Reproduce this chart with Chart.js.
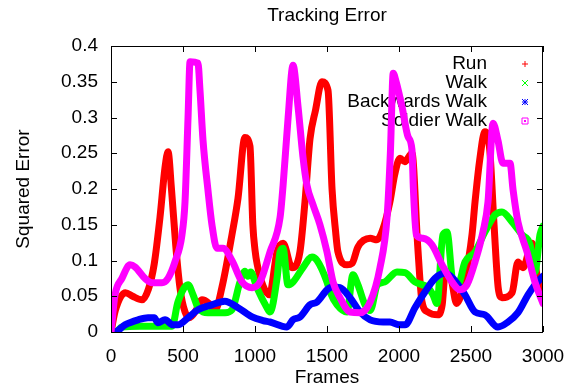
<!DOCTYPE html>
<html>
<head>
<meta charset="utf-8">
<script src="https://cdn.jsdelivr.net/npm/chart.js@4.4.1/dist/chart.umd.min.js"></script>
<style>
  html, body { margin: 0; padding: 0; background: #fff; }
  #wrap { width: 574px; height: 392px; }
</style>
</head>
<body>
<div id="wrap"><canvas id="grafico" width="574" height="392"></canvas></div>
<script>
const titulo = 'Tracking Error';
const seriesNames = ['Run', 'Walk', 'Backwards Walk', 'Soldier Walk'];
const seriesColors = ['#ff0000', '#00ff00', '#0000ff', '#ff00ff'];
const xTicks = [0, 500, 1000, 1500, 2000, 2500, 3000];
const yTicks = [0, 0.05, 0.1, 0.15, 0.2, 0.25, 0.3, 0.35, 0.4];

const runFrames = [0,30,100,150,215,260,300,340,375,396,420,450,480,514,545,590,632,680,722,770,840,882,930,965,985,1000,1015,1055,1100,1153,1195,1257,1312,1347,1382,1420,1465,1507,1535,1560,1576,1639,1674,1715,1800,1847,1890,1937,1970,2007,2040,2090,2130,2160,2200,2270,2300,2320,2360,2400,2458,2507,2528,2560,2597,2630,2660,2690,2715,2785,2826,2861,2924,2958,3000];
const runValues = [0,0.03,0.055,0.05,0.045,0.06,0.095,0.16,0.23,0.252,0.2,0.12,0.06,0.028,0.02,0.03,0.045,0.04,0.03,0.062,0.136,0.187,0.272,0.26,0.15,0.115,0.095,0.065,0.052,0.112,0.124,0.09,0.112,0.182,0.27,0.31,0.35,0.338,0.2,0.14,0.112,0.094,0.096,0.119,0.131,0.129,0.145,0.182,0.22,0.243,0.238,0.25,0.12,0.042,0.028,0.024,0.038,0.08,0.075,0.04,0.075,0.136,0.182,0.24,0.28,0.255,0.15,0.06,0.048,0.055,0.098,0.09,0.124,0.08,0.06];

const walkFrames = [0,30,76,200,424,465,535,570,604,673,792,840,896,930,950,970,1013,1083,1104,1153,1174,1195,1229,1264,1333,1396,1431,1500,1521,1570,1639,1680,1715,1764,1800,1850,1900,1986,2042,2111,2201,2236,2264,2305,2333,2375,2410,2458,2528,2597,2667,2715,2785,2854,2910,2944,2979,3000];
const walkValues = [0,0,0.007,0.008,0.008,0.042,0.066,0.052,0.034,0.027,0.027,0.031,0.07,0.085,0.078,0.084,0.062,0.034,0.028,0.075,0.112,0.117,0.066,0.07,0.09,0.105,0.1,0.07,0.056,0.038,0.028,0.08,0.066,0.038,0.03,0.066,0.07,0.084,0.083,0.07,0.062,0.052,0.04,0.136,0.14,0.07,0.066,0.098,0.112,0.14,0.164,0.168,0.154,0.136,0.122,0.084,0.136,0.148];

const backFrames = [0,25,97,188,257,300,326,375,430,465,535,604,701,790,882,980,1055,1104,1222,1264,1312,1382,1431,1500,1535,1590,1660,1729,1800,1890,1937,2000,2042,2111,2180,2250,2320,2375,2458,2528,2597,2687,2757,2826,2896,2944,3000];
const backValues = [0,0,0.01,0.017,0.02,0.02,0.013,0.017,0.01,0.01,0.02,0.031,0.038,0.043,0.034,0.021,0.016,0.014,0.007,0.017,0.021,0.038,0.042,0.059,0.063,0.062,0.048,0.028,0.017,0.014,0.014,0.01,0.01,0.034,0.056,0.075,0.082,0.075,0.052,0.028,0.024,0.007,0.014,0.027,0.052,0.066,0.078];

const soldierFrames = [0,28,76,132,167,236,285,354,396,444,493,514,535,549,604,618,639,673,701,736,778,840,910,980,1035,1104,1174,1195,1230,1264,1299,1333,1361,1403,1451,1500,1542,1590,1660,1729,1800,1868,1917,1940,1960,1980,2021,2063,2090,2100,2120,2167,2229,2299,2368,2424,2472,2528,2583,2618,2653,2687,2722,2771,2792,2826,2889,2944,3000];
const soldierValues = [0,0.052,0.075,0.094,0.091,0.075,0.069,0.069,0.075,0.098,0.136,0.182,0.3,0.378,0.376,0.338,0.268,0.199,0.15,0.117,0.117,0.1,0.07,0.062,0.07,0.112,0.16,0.205,0.3,0.373,0.315,0.245,0.205,0.178,0.15,0.112,0.07,0.048,0.028,0.027,0.042,0.09,0.16,0.25,0.362,0.35,0.315,0.273,0.255,0.2,0.136,0.131,0.122,0.094,0.07,0.059,0.066,0.098,0.14,0.182,0.292,0.268,0.236,0.236,0.199,0.154,0.112,0.07,0.04];

const FONT = 'Liberation Sans, Arial, Helvetica, sans-serif';

function pontos(frames, values) {
    return frames.map((f, i) => ({ x: f, y: values[i] }));
}

// gnuplot style: box around the plot, ticks pointing inwards, mirrored
const moldura = {
    id: 'moldura',
    beforeDatasetsDraw(chart) {
        // key is drawn before the curves, so curves cover it like in gnuplot
        const ctx = chart.ctx;
        ctx.save();
        ctx.font = '19px ' + FONT;
        ctx.textAlign = 'right';
        ctx.textBaseline = 'middle';
        ctx.fillStyle = '#000';
        seriesNames.forEach((nome, i) => {
            ctx.fillText(nome, 487, 64 + i * 19);
        });
        ctx.restore();
    },
    afterDatasetsDraw(chart) {
        const ctx = chart.ctx;
        const a = chart.chartArea;
        const xs = chart.scales.x, ys = chart.scales.y;
        ctx.save();
        ctx.strokeStyle = '#000';
        ctx.lineWidth = 1;
        ctx.beginPath();
        ctx.rect(Math.round(a.left) + 0.5, Math.round(a.top) + 0.5,
                 Math.round(a.right - a.left) - 1, Math.round(a.bottom - a.top));
        xTicks.forEach(t => {
            const px = Math.round(xs.getPixelForValue(t)) + 0.5;
            ctx.moveTo(px, a.bottom); ctx.lineTo(px, a.bottom - 6);
            ctx.moveTo(px, a.top); ctx.lineTo(px, a.top + 6);
        });
        yTicks.forEach(t => {
            const py = Math.round(ys.getPixelForValue(t)) + 0.5;
            ctx.moveTo(a.left, py); ctx.lineTo(a.left + 6, py);
            ctx.moveTo(a.right, py); ctx.lineTo(a.right - 6, py);
        });
        ctx.stroke();

        // key samples
        const mx = 525;
        seriesNames.forEach((nome, i) => {
            const my = 64 + i * 19;
            ctx.strokeStyle = seriesColors[i];
            ctx.fillStyle = seriesColors[i];
            ctx.beginPath();
            if (i === 0) {
                ctx.moveTo(mx - 3, my); ctx.lineTo(mx + 3, my);
                ctx.moveTo(mx, my - 3); ctx.lineTo(mx, my + 3);
            } else if (i === 1) {
                ctx.moveTo(mx - 3, my - 3); ctx.lineTo(mx + 3, my + 3);
                ctx.moveTo(mx - 3, my + 3); ctx.lineTo(mx + 3, my - 3);
            } else if (i === 2) {
                ctx.moveTo(mx - 3, my - 3); ctx.lineTo(mx + 3, my + 3);
                ctx.moveTo(mx - 3, my + 3); ctx.lineTo(mx + 3, my - 3);
                ctx.moveTo(mx - 3, my); ctx.lineTo(mx + 3, my);
                ctx.moveTo(mx, my - 3); ctx.lineTo(mx, my + 3);
            } else {
                ctx.rect(mx - 3, my - 3, 6, 6);
                ctx.fillRect(mx - 1, my - 1, 2, 2);
            }
            ctx.stroke();
        });

        ctx.fillStyle = '#000';
        ctx.font = '19px ' + FONT;
        ctx.textAlign = 'center';
        ctx.textBaseline = 'middle';
        ctx.fillText(titulo, (a.left + a.right) / 2, 16);
        ctx.restore();
    }
};

const datasets = [
    [runFrames, runValues],
    [walkFrames, walkValues],
    [backFrames, backValues],
    [soldierFrames, soldierValues]
].map(([f, v], i) => ({
    label: seriesNames[i],
    data: pontos(f, v),
    borderColor: seriesColors[i],
    backgroundColor: seriesColors[i],
    borderWidth: 7,
    pointRadius: 0,
    cubicInterpolationMode: 'monotone',
    borderJoinStyle: 'round',
    borderCapStyle: 'round',
    order: 4 - i
}));

const ctx = document.getElementById('grafico').getContext('2d');
new Chart(ctx, {
    type: 'line',
    data: { datasets: datasets },
    options: {
        responsive: false,
        animation: false,
        layout: { padding: { top: 46, right: 31, left: 0, bottom: 0 } },
        plugins: {
            legend: { display: false },
            tooltip: { enabled: false }
        },
        scales: {
            x: {
                type: 'linear',
                min: 0,
                max: 3000,
                afterFit: s => { s.height = 60; s.paddingLeft = 0; s.paddingRight = 0; },
                afterBuildTicks: s => { s.ticks = xTicks.map(v => ({ value: v })); },
                grid: { display: false, drawTicks: false },
                border: { display: false },
                ticks: { color: '#000', padding: 13, maxRotation: 0, font: { family: FONT, size: 19 }, callback: v => String(v) },
                title: { display: true, text: 'Frames', color: '#000', padding: { top: 0, bottom: 3 }, font: { family: FONT, size: 19 } }
            },
            y: {
                min: 0,
                max: 0.4,
                afterFit: s => { s.width = 111; s.paddingTop = 0; s.paddingBottom = 0; },
                afterBuildTicks: s => { s.ticks = yTicks.map(v => ({ value: v })); },
                grid: { display: false, drawTicks: false },
                border: { display: false },
                ticks: { color: '#000', padding: 13, font: { family: FONT, size: 19 }, callback: v => String(v) },
                title: { display: true, text: 'Squared Error', color: '#000', padding: { top: 12, bottom: 0 }, font: { family: FONT, size: 19 } }
            }
        }
    },
    plugins: [moldura]
});
</script>
</body>
</html>
